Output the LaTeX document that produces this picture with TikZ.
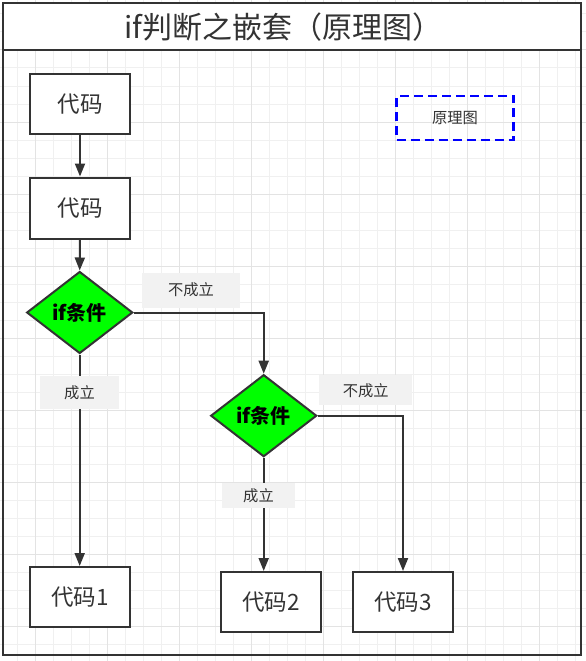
\documentclass[tikz,border=0pt]{standalone}
\usepackage{fontspec}
\newfontfamily\cjk{Noto Sans CJK SC}
\usetikzlibrary{shapes.geometric,arrows.meta}
\definecolor{ink}{HTML}{333333}
\definecolor{minorgrid}{HTML}{F0F0F0}
\definecolor{majorgrid}{HTML}{E3E3E3}
\definecolor{lblbg}{HTML}{F2F2F2}
\definecolor{condgreen}{HTML}{00FF00}
\tikzset{
  codebox/.style={draw=ink, line width=2pt, fill=white, minimum width=100pt, minimum height=60pt, inner sep=0pt, font=\cjk\fontsize{22.5}{27}\selectfont, text=ink},
  cond/.style={shape=diamond, draw=ink, line width=2pt, fill=condgreen, minimum width=106pt, minimum height=82pt, inner sep=0pt, font=\cjk\bfseries\fontsize{20}{24}\selectfont, text=black},
  lbl/.style={fill=lblbg, inner sep=0pt, font=\cjk\fontsize{15.3}{18}\selectfont, text=ink},
  edge/.style={draw=ink, line width=2pt, -{Triangle[length=13pt,width=10pt]}},
  note/.style={draw=blue, line width=2.5pt, dash pattern=on 9pt off 5pt, minimum width=117pt, minimum height=44pt, inner sep=0pt, font=\cjk\fontsize{15.3}{18}\selectfont, text=ink}
}
\begin{document}
\begin{tikzpicture}[x=1pt,y=-1pt]
\useasboundingbox (0,0) rectangle (586,661);
\fill[white] (0,0) rectangle (586,661);
% grid
\foreach \i in {0,...,32} \draw[minorgrid, line width=1pt] ({17.3+18*\i},0) -- ++(0,661);
\foreach \i in {0,...,36} \draw[minorgrid, line width=1pt] (0,{14+18*\i}) -- ++(586,0);
\foreach \i in {0,...,7} \draw[majorgrid, line width=1pt] ({35.3+72*\i},0) -- ++(0,661);
\foreach \i in {0,...,8} \draw[majorgrid, line width=1pt] (0,{50+72*\i}) -- ++(586,0);
% frame and title
\draw[ink, line width=2pt] (3,3) rectangle (581,655);
\filldraw[fill=white, draw=ink, line width=2pt] (3,3) rectangle (581,50);
\node[font=\cjk\fontsize{30}{35}\selectfont, text=ink] (title) at (283,27) {if判断之嵌套（原理图）};
% note
\node[note] (note) at (455,118) {原理图};
% nodes
\node[codebox] (c1) at (80,104) {代码};
\node[codebox, minimum height=61pt] (c2) at (80,208) {代码};
\node[cond] (d1) at (79.7,312.5) {if条件};
\node[cond] (d2) at (263.7,415.7) {if条件};
\node[codebox] (r1) at (80,597) {代码1};
\node[codebox] (r2) at (271,602) {代码2};
\node[codebox] (r3) at (403,602) {代码3};
% edges
\draw[edge] (c1.south) -- (c2.north);
\draw[edge] (c2.south) -- (d1.north);
\draw[edge] (d1.east) -| (d2.north);
\draw[edge] (d1.south) -- (d1.south |- r1.north);
\draw[edge] (d2.south) -- (d2.south |- r2.north);
\draw[edge] (d2.east) -| (r3.north);
% labels
\node[lbl, minimum width=98pt, minimum height=35pt] (l1) at (191,290) {不成立};
\node[lbl, minimum width=79pt, minimum height=33pt] (l2) at (79.5,392.5) {成立};
\node[lbl, minimum width=93pt, minimum height=30pt] (l3) at (365.7,390.2) {不成立};
\node[lbl, minimum width=73pt, minimum height=25pt] (l4) at (258.5,495.5) {成立};
\end{tikzpicture}
\end{document}
